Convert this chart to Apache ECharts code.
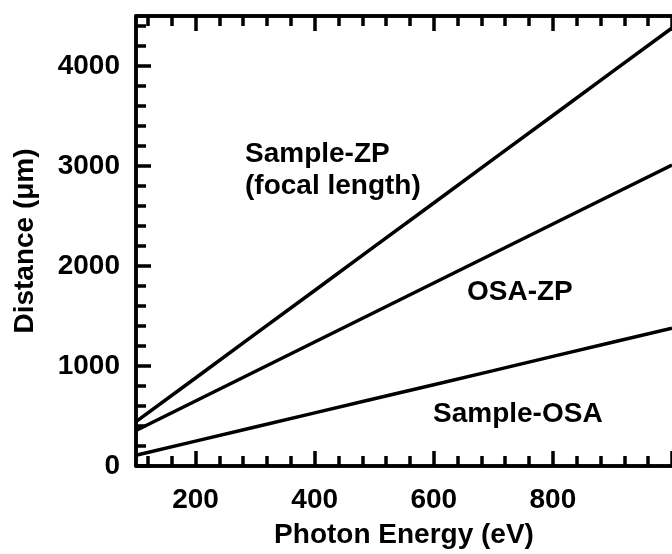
<!DOCTYPE html>
<html>
<head>
<meta charset="utf-8">
<script src="https://cdn.jsdelivr.net/npm/echarts@6/dist/echarts.min.js"></script>
<style>
  html, body { margin: 0; padding: 0; background: #fff; }
  #chart { width: 672px; height: 554px; }
</style>
</head>
<body>
<div id="chart"></div>
<script>
// photon energy (eV)
const energy = [100, 200, 300, 400, 500, 600, 700, 800, 900, 1000];
// distances in um
const sampleZP = [443, 880, 1318, 1755, 2193, 2630, 3068, 3505, 3943, 4380];
const osaZP = [355, 650, 945, 1240, 1535, 1830, 2125, 2420, 2715, 3010];
const sampleOSA = [108, 249, 390, 531, 672, 813, 954, 1096, 1237, 1378];

// ticks
const xLabels = [200, 400, 600, 800];
const xMajor = [200, 400, 600, 800, 1000];
const xMinor = [120, 160, 240, 280, 320, 360, 440, 480, 520, 560, 640, 680, 720, 760, 840, 880, 920, 960];
const yMajor = [0, 1000, 2000, 3000, 4000];
const yMinor = [200, 400, 600, 800, 1200, 1400, 1600, 1800, 2200, 2400, 2600, 2800, 3200, 3400, 3600, 3800, 4200, 4400];

const FONT = "'Liberation Sans', Arial, Helvetica, sans-serif";
const LW = 3.5;

const myChart = echarts.init(document.getElementById('chart'), null, { renderer: 'canvas' });

const pairs = (ys) => energy.map((e, i) => [e, ys[i]]);

function xAx(pos, ticks, len, labels, extra) {
    return Object.assign({
        type: 'value',
        position: pos,
        min: 100,
        max: 1000,
        splitLine: { show: false },
        axisLine: { show: true, onZero: false, lineStyle: { color: '#000', width: LW } },
        axisTick: { show: true, inside: true, length: len, customValues: ticks, lineStyle: { color: '#000', width: LW } },
        axisLabel: labels ? {
            show: true, customValues: xLabels, margin: 20,
            formatter: (v) => String(v),
            color: '#000', fontFamily: FONT, fontWeight: 'bold', fontSize: 28
        } : { show: false }
    }, extra || {});
}

function yAx(ticks, len, labels, extra) {
    return Object.assign({
        type: 'value',
        position: 'left',
        min: 0,
        max: 4500,
        splitLine: { show: false },
        axisLine: { show: true, onZero: false, lineStyle: { color: '#000', width: LW } },
        axisTick: { show: true, inside: true, length: len, customValues: ticks, lineStyle: { color: '#000', width: LW } },
        axisLabel: labels ? {
            show: true, customValues: yMajor, margin: 16,
            formatter: (v) => String(v),
            color: '#000', fontFamily: FONT, fontWeight: 'bold', fontSize: 28
        } : { show: false }
    }, extra || {});
}

const lineStyle = { color: '#000', width: LW };

const option = {
    backgroundColor: '#fff',
    animation: false,
    grid: { left: 136, right: -7, top: 16, bottom: 87 },
    xAxis: [
        xAx('bottom', xMajor, 15, true, {
            name: 'Photon Energy (eV)',
            nameLocation: 'middle',
            nameGap: 55,
            nameTextStyle: { color: '#000', fontFamily: FONT, fontWeight: 'bold', fontSize: 28 }
        }),
        xAx('bottom', xMinor, 10, false),
        xAx('top', xMajor, 15, false),
        xAx('top', xMinor, 10, false)
    ],
    yAxis: [
        yAx(yMajor, 15, true, {
            name: 'Distance (\u03bcm)',
            nameLocation: 'middle',
            nameGap: 97,
            nameTextStyle: { color: '#000', fontFamily: FONT, fontWeight: 'bold', fontSize: 28 }
        }),
        yAx(yMinor, 10, false)
    ],
    series: [
        { name: 'Sample-ZP', type: 'line', data: pairs(sampleZP), showSymbol: false, lineStyle: lineStyle },
        { name: 'OSA-ZP', type: 'line', data: pairs(osaZP), showSymbol: false, lineStyle: lineStyle },
        { name: 'Sample-OSA', type: 'line', data: pairs(sampleOSA), showSymbol: false, lineStyle: lineStyle }
    ],
    graphic: [
        { type: 'text', left: 245, top: 140, style: { text: 'Sample-ZP', font: 'bold 28px ' + FONT, fill: '#000' } },
        { type: 'text', left: 245, top: 172, style: { text: '(focal length)', font: 'bold 28px ' + FONT, fill: '#000' } },
        { type: 'text', left: 467, top: 278, style: { text: 'OSA-ZP', font: 'bold 28px ' + FONT, fill: '#000' } },
        { type: 'text', left: 433, top: 400, style: { text: 'Sample-OSA', font: 'bold 28px ' + FONT, fill: '#000' } }
    ]
};

option && myChart.setOption(option);
</script>
</body>
</html>
